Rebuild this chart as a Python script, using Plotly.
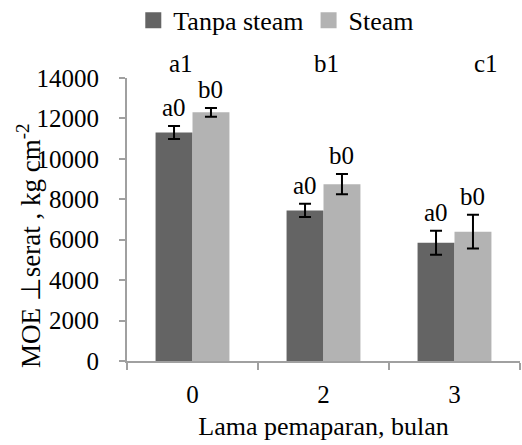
import plotly.graph_objects as go

# Exposure time (months) and MOE perpendicular to grain values
categories = ["0", "2", "3"]
tanpa_steam = [11300, 7450, 5850]
tanpa_steam_err = [320, 330, 590]
steam = [12300, 8750, 6400]
steam_err = [220, 500, 840]

label_tanpa = ["a0", "a0", "a0"]
label_steam = ["b0", "b0", "b0"]
group_labels = ["a1", "b1", "c1"]
group_label_pos = [-0.09, 1.02, 2.24]
y_ticks = [0, 2000, 4000, 6000, 8000, 10000, 12000, 14000]

FONT = "Liberation Serif"
DARK = "#646464"
LIGHT = "#b3b3b3"
AXIS = "#a0a0a0"

fig = go.Figure()
fig.add_bar(
    name="Tanpa steam", x=categories, y=tanpa_steam, showlegend=False,
    marker=dict(color=DARK, line=dict(width=0)),
    error_y=dict(type="data", array=tanpa_steam_err, color="black", thickness=2, width=6),
)
fig.add_bar(
    name="Steam", x=categories, y=steam, showlegend=False,
    marker=dict(color=LIGHT, line=dict(width=0)),
    error_y=dict(type="data", array=steam_err, color="black", thickness=2, width=6),
)
# square legend keys
for name, color in [("Tanpa steam", DARK), ("Steam", LIGHT)]:
    fig.add_scatter(
        x=[None], y=[None], mode="markers", name=name,
        marker=dict(symbol="square", size=16, color=color, line=dict(width=0)),
    )

offset = 0.141
lbl_font = dict(family=FONT, size=25, color="black")
annotations = []
for i in range(len(categories)):
    annotations.append(dict(
        x=i - offset, y=tanpa_steam[i] + tanpa_steam_err[i], xref="x", yref="y",
        text=label_tanpa[i], showarrow=False, yanchor="bottom", yshift=3, font=lbl_font,
    ))
    annotations.append(dict(
        x=i + offset, y=steam[i] + steam_err[i], xref="x", yref="y",
        text=label_steam[i], showarrow=False, yanchor="bottom", yshift=3, font=lbl_font,
    ))
    annotations.append(dict(
        x=group_label_pos[i], y=1.053, xref="x", yref="paper",
        text=group_labels[i], showarrow=False, yanchor="middle", font=lbl_font,
    ))
# rotated y-axis title
annotations.append(dict(
    x=-0.248, y=0.405, xref="paper", yref="paper", textangle=-90,
    text="MOE \u22a5serat , kg cm<sup>-2</sup>", showarrow=False,
    xanchor="center", yanchor="middle",
    font=dict(family=FONT, size=27, color="black"),
))

fig.update_layout(
    width=522, height=445,
    margin=dict(l=127, r=2, t=78, b=84, autoexpand=False),
    paper_bgcolor="white", plot_bgcolor="white",
    barmode="group", bargap=0.436, bargroupgap=0,
    font=dict(family=FONT, size=25, color="black"),
    showlegend=True,
    legend=dict(
        orientation="h", x=0.016, xanchor="left", y=1.204, yanchor="middle",
        font=dict(family=FONT, size=26, color="black"),
        itemwidth=30, itemsizing="trace", traceorder="normal",
        bgcolor="rgba(0,0,0,0)",
    ),
    annotations=annotations,
)
fig.update_xaxes(
    type="category", showline=True, linecolor=AXIS, linewidth=2,
    ticks="outside", tickson="boundaries", ticklen=7, tickcolor=AXIS, tickwidth=2,
    showgrid=False, zeroline=False, ticklabelstandoff=10,
    tickfont=dict(family=FONT, size=25, color="black"),
    title=dict(text="Lama pemaparan, bulan", font=dict(family=FONT, size=26, color="black"), standoff=10),
)
fig.update_yaxes(
    range=[0, 14000], tickvals=y_ticks, tickformat="d",
    showline=True, linecolor=AXIS, linewidth=2,
    ticks="outside", ticklen=6, tickcolor=AXIS, tickwidth=2,
    showgrid=False, zeroline=False, ticklabelstandoff=15,
    tickfont=dict(family=FONT, size=25, color="black"),
)

fig.write_html("out.html")
